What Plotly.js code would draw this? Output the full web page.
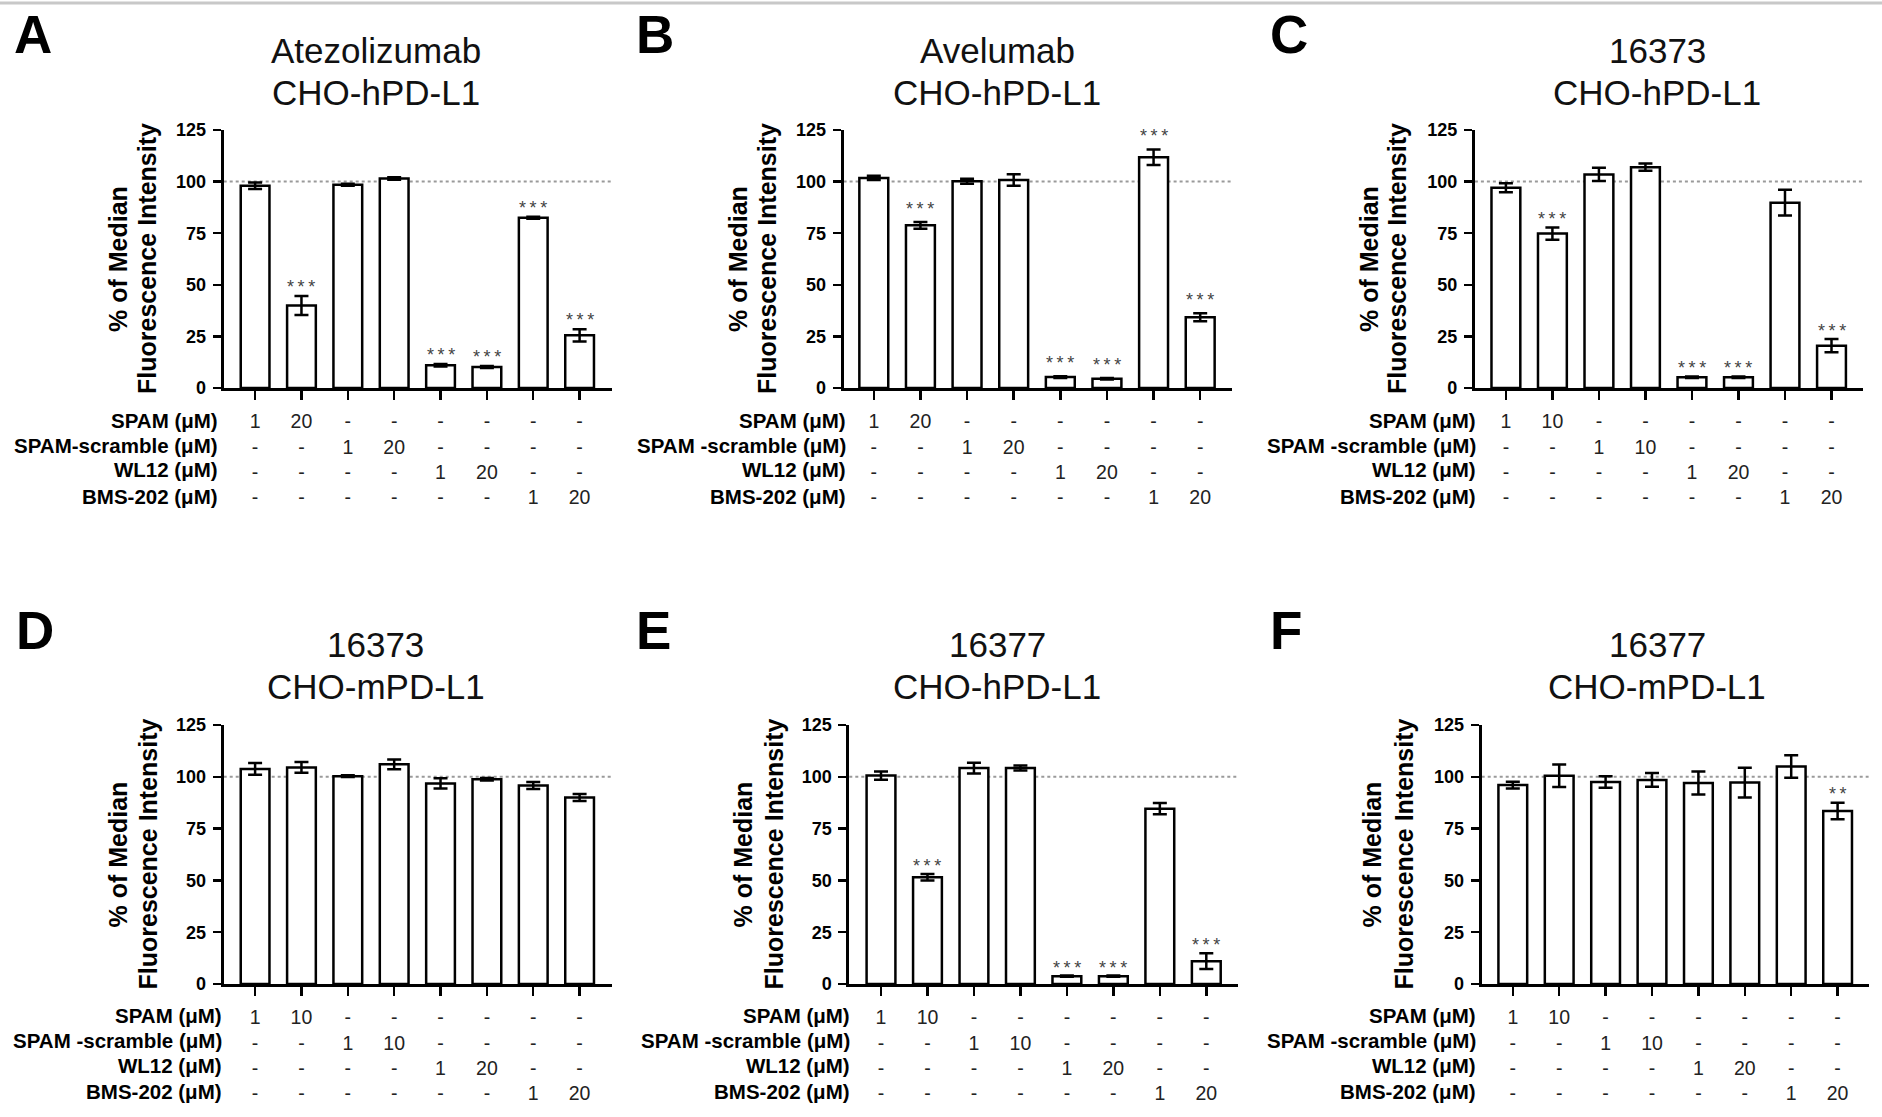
<!DOCTYPE html>
<html><head><meta charset="utf-8">
<script src="https://cdn.plot.ly/plotly-3.0.1.min.js"></script>
<style>html,body{margin:0;padding:0;background:#fff;overflow:hidden}#chart{width:1882px;height:1117px}</style>
</head><body><div id="chart"></div>
<script>
// ---------------- DATA ----------------
const barIndex = [0, 1, 2, 3, 4, 5, 6, 7];
const yTicks = [0, 25, 50, 75, 100, 125];
const referenceLevel = 100;

const panelLetters = ['A', 'B', 'C', 'D', 'E', 'F'];
const titleLine1 = ['Atezolizumab', 'Avelumab', '16373', '16373', '16377', '16377'];
const titleLine2 = ['CHO-hPD-L1', 'CHO-hPD-L1', 'CHO-hPD-L1', 'CHO-mPD-L1', 'CHO-hPD-L1', 'CHO-mPD-L1'];
const yTitleLine1 = '% of Median';
const yTitleLine2 = 'Fluorescence Intensity';

const rowLabelsA = ['SPAM (μM)', 'SPAM-scramble (μM)', 'WL12 (μM)', 'BMS-202 (μM)'];
const rowLabelsOther = ['SPAM (μM)', 'SPAM -scramble (μM)', 'WL12 (μM)', 'BMS-202 (μM)'];

const spam20     = ['1', '20', '-', '-', '-', '-', '-', '-'];
const scramble20 = ['-', '-', '1', '20', '-', '-', '-', '-'];
const spam10     = ['1', '10', '-', '-', '-', '-', '-', '-'];
const scramble10 = ['-', '-', '1', '10', '-', '-', '-', '-'];
const wl12       = ['-', '-', '-', '-', '1', '20', '-', '-'];
const bms202     = ['-', '-', '-', '-', '-', '-', '1', '20'];

const meanA = [98, 40, 98.5, 101.5, 11, 10.2, 82.5, 25.5];
const errA  = [1.6, 4.6, 0.5, 0.6, 0.6, 0.5, 0.5, 3.0];
const starsA = ['', '***', '', '', '***', '***', '***', '***'];

const meanB = [101.8, 78.8, 100.2, 100.8, 5.3, 4.5, 111.8, 34.3];
const errB  = [1.0, 1.6, 1.2, 2.8, 0.4, 0.4, 3.8, 1.9];
const starsB = ['', '***', '', '', '***', '***', '***', '***'];

const meanC = [97, 74.8, 103.5, 107, 5.2, 5.2, 89.8, 20.5];
const errC  = [2.2, 3.0, 3.2, 1.8, 0.4, 0.4, 6.2, 3.2];
const starsC = ['', '***', '', '', '***', '***', '', '***'];

const meanD = [103.8, 104.5, 100.3, 106, 96.8, 98.8, 95.8, 90];
const errD  = [2.8, 2.6, 0.4, 2.3, 2.5, 0.6, 1.7, 1.7];
const starsD = ['', '', '', '', '', '', '', ''];

const meanE = [100.6, 51.5, 104.2, 104.2, 3.8, 3.8, 84.6, 11];
const errE  = [2.0, 1.6, 2.6, 1.2, 0.3, 0.3, 2.7, 3.8];
const starsE = ['', '***', '', '', '***', '***', '', '***'];

const meanF = [96, 100.5, 97.5, 98.5, 97, 97.2, 105, 83.5];
const errF  = [1.6, 5.4, 2.8, 3.3, 5.5, 7.2, 5.4, 4.0];
const starsF = ['', '', '', '', '', '', '', '**'];

// ---------------- LAYOUT (pixel geometry) ----------------
const W = 1882, H = 1117;
const FONT = '"Liberation Sans", Arial, Helvetica, sans-serif';
const px = v => v / W;
const py = v => 1 - v / H;

const panels = [
  {mean: meanA, err: errA, stars: starsA, rows: [spam20, scramble20, wl12, bms202], labels: rowLabelsA,
   axL: 223.7, axR: 612.2, top: 130, bot: 388, c0: 255.1, c7: 579.6, title: 375.5, ty: [50, 92],
   letter: [12, 34], yt: [118, 147], rowR: 220.4, rowY: [420, 445, 470, 496], starShift: 12},
  {mean: meanB, err: errB, stars: starsB, rows: [spam20, scramble20, wl12, bms202], labels: rowLabelsOther,
   axL: 843.6, axR: 1232, top: 130, bot: 388, c0: 873.8, c7: 1200.2, title: 997.4, ty: [50, 92],
   letter: [634, 34], yt: [738, 767], rowR: 847.7, rowY: [420, 445, 470, 496], starShift: 16},
  {mean: meanC, err: errC, stars: starsC, rows: [spam10, scramble10, wl12, bms202], labels: rowLabelsOther,
   axL: 1474.9, axR: 1863.4, top: 130, bot: 388, c0: 1505.9, c7: 1831.5, title: 1657, ty: [50, 92],
   letter: [1268, 34], yt: [1369, 1397], rowR: 1477.7, rowY: [420, 445, 470, 496], starShift: 11},
  {mean: meanD, err: errD, stars: starsD, rows: [spam10, scramble10, wl12, bms202], labels: rowLabelsOther,
   axL: 223.7, axR: 612.2, top: 725, bot: 984, c0: 255.1, c7: 579.6, title: 375.5, ty: [644, 686],
   letter: [14, 630], yt: [117, 147], rowR: 224.4, rowY: [1015, 1040, 1065, 1091], starShift: 11},
  {mean: meanE, err: errE, stars: starsE, rows: [spam10, scramble10, wl12, bms202], labels: rowLabelsOther,
   axL: 849.3, axR: 1238, top: 725, bot: 984, c0: 881, c7: 1206.3, title: 997.4, ty: [644, 686],
   letter: [634, 630], yt: [742, 773], rowR: 851.7, rowY: [1015, 1040, 1065, 1091], starShift: 11},
  {mean: meanF, err: errF, stars: starsF, rows: [spam10, scramble10, wl12, bms202], labels: rowLabelsOther,
   axL: 1481.7, axR: 1868.6, top: 725, bot: 984, c0: 1512.8, c7: 1837.6, title: 1657, ty: [644, 686],
   letter: [1268, 630], yt: [1371, 1403], rowR: 1477.7, rowY: [1015, 1040, 1065, 1091], starShift: 12}
];

const traces = [];
const layout = {
  width: W, height: H,
  margin: {l: 0, r: 0, t: 0, b: 0, pad: 0},
  paper_bgcolor: '#fff', plot_bgcolor: 'rgba(0,0,0,0)',
  showlegend: false,
  font: {family: FONT, color: '#000'},
  annotations: [],
  shapes: [{type: 'line', xref: 'paper', yref: 'paper', x0: 0, x1: 1, y0: py(3), y1: py(3),
            line: {color: '#c8c8c8', width: 3}}]
};

panels.forEach((p, k) => {
  const n = k + 1;
  const xa = 'x' + n, ya = 'y' + n;
  const sp = (p.c7 - p.c0) / 7;
  const ticktext = barIndex.map(i => p.rows.map(r => r[i]).join('<br>'));

  traces.push({
    type: 'bar', x: barIndex, y: p.mean, xaxis: xa, yaxis: ya,
    width: 0.62,
    marker: {color: '#ffffff', line: {color: '#000', width: 2.5}},
    error_y: {type: 'data', array: p.err, visible: true, color: '#000', thickness: 2.5, width: 7},
    hoverinfo: 'skip', cliponaxis: false
  });

  layout['xaxis' + n] = {
    domain: [px(p.axL), px(p.axR)], anchor: ya,
    range: [-(p.c0 - p.axL) / sp, 7 + (p.axR - p.c7) / sp],
    tickmode: 'array', tickvals: barIndex, ticktext: ticktext,
    ticks: 'outside', ticklen: 9, tickwidth: 2.5, tickcolor: '#000',
    showline: true, linewidth: 3, linecolor: '#000',
    showgrid: false, zeroline: false, fixedrange: true,
    ticklabelstandoff: 5,
    tickfont: {family: FONT, size: 19.5, color: '#222'}
  };
  layout['yaxis' + n] = {
    domain: [py(p.bot), py(p.top)], anchor: xa,
    range: [0, 125], tickmode: 'array', tickvals: yTicks,
    ticks: 'outside', ticklen: 8, tickwidth: 2.5, tickcolor: '#000',
    showline: true, linewidth: 3, linecolor: '#000',
    showgrid: false, zeroline: false, fixedrange: true,
    ticklabelstandoff: 3,
    tickfont: {family: FONT, size: 18, color: '#000', weight: 'bold'}
  };

  layout.shapes.push({type: 'line', xref: xa + ' domain', yref: ya, x0: 0, x1: 1,
    y0: referenceLevel, y1: referenceLevel, layer: 'below',
    line: {color: '#9a9a9a', width: 2, dash: 'dot'}});

  // panel letter
  layout.annotations.push({xref: 'paper', yref: 'paper', x: px(p.letter[0]), y: py(p.letter[1]),
    xanchor: 'left', yanchor: 'middle', showarrow: false, text: '<b>' + panelLetters[k] + '</b>',
    font: {family: FONT, size: 53, color: '#000'}});
  // title lines
  [titleLine1[k], titleLine2[k]].forEach((t, j) => {
    layout.annotations.push({xref: 'paper', yref: 'paper', x: px(p.title), y: py(p.ty[j]),
      xanchor: 'center', yanchor: 'middle', showarrow: false, text: t,
      font: {family: FONT, size: 35, color: '#111'}});
  });
  // y-axis title lines
  [yTitleLine1, yTitleLine2].forEach((t, j) => {
    layout.annotations.push({xref: 'paper', yref: 'paper', x: px(p.yt[j]), y: py((p.top + p.bot) / 2),
      xanchor: 'center', yanchor: 'middle', textangle: -90, showarrow: false, text: '<b>' + t + '</b>',
      font: {family: FONT, size: 25, color: '#000'}});
  });
  // row labels
  p.labels.forEach((t, j) => {
    layout.annotations.push({xref: 'paper', yref: 'paper', x: px(p.rowR), y: py(p.rowY[j]),
      xanchor: 'right', yanchor: 'middle', showarrow: false, text: '<b>' + t + '</b>',
      font: {family: FONT, size: 20.5, color: '#000'}});
  });
  // significance stars
  p.stars.forEach((s, i) => {
    if (!s) return;
    layout.annotations.push({xref: xa, yref: ya, x: barIndex[i], y: p.mean[i] + p.err[i],
      xanchor: 'center', yanchor: 'middle', yshift: p.starShift - 3, showarrow: false,
      text: s.split('').join('\u2009'),
      font: {family: FONT, size: 18, color: '#444'}});
  });
});

Plotly.newPlot('chart', traces, layout, {staticPlot: true, displayModeBar: false});
</script>
</body></html>
